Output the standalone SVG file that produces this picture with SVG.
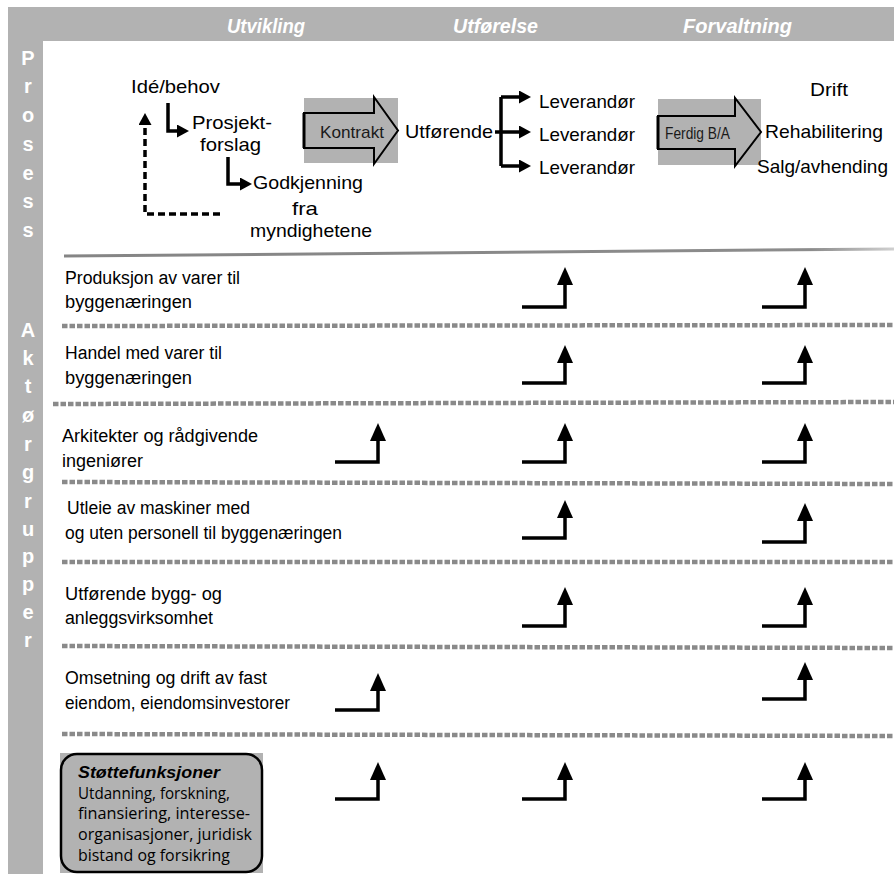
<svg xmlns="http://www.w3.org/2000/svg" width="894" height="874" viewBox="0 0 894 874">
<defs>
<style>
.hd{font-family:"Liberation Sans",Arial,sans-serif;font-weight:bold;font-style:italic;font-size:20px;fill:#fff}
.side{font-family:"Liberation Sans",Arial,sans-serif;font-weight:bold;font-size:20px;fill:#fff;text-anchor:middle}
.t{font-family:"Liberation Sans",Arial,sans-serif;font-size:19px;fill:#000}
.row{font-family:"Liberation Sans",Arial,sans-serif;font-size:18px;fill:#000}
.lab{font-family:"Liberation Sans",Arial,sans-serif;font-size:17px;fill:#1a1a1a}
.box{font-family:"Open Sans","Liberation Sans",sans-serif;font-size:16px;fill:#000}
.boxh{font-family:"Liberation Sans",Arial,sans-serif;font-size:17px;font-weight:bold;font-style:italic;fill:#000}
.band{fill:#b2b2b2}
.dot{stroke:#8a8a8a;stroke-width:4.5;stroke-dasharray:5.5 2;fill:none}
.up{stroke:#000;stroke-width:3.5;fill:none;marker-end:url(#big)}
.con{stroke:#000;stroke-width:3.5;fill:none;marker-end:url(#sm)}
.dash{stroke:#000;stroke-width:3.5;fill:none;stroke-dasharray:7 4;marker-end:url(#sm)}
.bigarrow{fill:#b2b2b2;stroke:#000;stroke-width:2}
</style>
<marker id="big" viewBox="0 0 18 16" refX="6" refY="8" markerWidth="18" markerHeight="16" markerUnits="userSpaceOnUse" orient="auto"><path d="M0,0 L18,8 L0,16 z" fill="#000"/></marker>
<marker id="sm" viewBox="0 0 12 13" refX="4" refY="6.5" markerWidth="12" markerHeight="13" markerUnits="userSpaceOnUse" orient="auto"><path d="M0,0 L12,6.5 L0,13 z" fill="#000"/></marker>
<linearGradient id="sep" x1="0" x2="1" y1="0" y2="0"><stop offset="0" stop-color="#858585"/><stop offset="0.9" stop-color="#8c8c8c"/><stop offset="1" stop-color="#d0d0d0"/></linearGradient>
</defs>
<rect width="894" height="874" fill="#fff"/>

<g id="frame">
<rect class="band" x="8" y="7" width="886" height="34"/>
<rect class="band" x="8" y="7" width="35" height="867"/>
</g>

<g id="phase-headers">
<text class="hd" x="227" y="33" textLength="78" lengthAdjust="spacingAndGlyphs">Utvikling</text>
<text class="hd" x="453" y="33" textLength="85" lengthAdjust="spacingAndGlyphs">Utførelse</text>
<text class="hd" x="683" y="33" textLength="109" lengthAdjust="spacingAndGlyphs">Forvaltning</text>
</g>

<g id="side-prosess">
<text class="side" x="28" y="65">P</text>
<text class="side" x="28" y="93">r</text>
<text class="side" x="28" y="122">o</text>
<text class="side" x="28" y="151">s</text>
<text class="side" x="28" y="180">e</text>
<text class="side" x="28" y="208">s</text>
<text class="side" x="28" y="237">s</text>
</g>

<g id="side-aktorgrupper">
<text class="side" x="28" y="337">A</text>
<text class="side" x="28" y="365">k</text>
<text class="side" x="28" y="393">t</text>
<text class="side" x="28" y="422">ø</text>
<text class="side" x="28" y="451">r</text>
<text class="side" x="28" y="479">g</text>
<text class="side" x="28" y="508">r</text>
<text class="side" x="28" y="536">u</text>
<text class="side" x="28" y="563">p</text>
<text class="side" x="28" y="591">p</text>
<text class="side" x="28" y="619">e</text>
<text class="side" x="28" y="647">r</text>
</g>

<g id="separators">
<line x1="64" y1="256" x2="894" y2="249" stroke="url(#sep)" stroke-width="3"/>
<line class="dot" x1="62" y1="326" x2="894" y2="325"/>
<line class="dot" x1="53" y1="404" x2="894" y2="402"/>
<line class="dot" x1="62" y1="482" x2="894" y2="484"/>
<line class="dot" x1="62" y1="562" x2="894" y2="562"/>
<line class="dot" x1="62" y1="646" x2="894" y2="648"/>
<line class="dot" x1="62" y1="734" x2="894" y2="736"/>
</g>

<g id="node-ide"><text class="t" x="131" y="93" textLength="89" lengthAdjust="spacingAndGlyphs">Idé/behov</text></g>
<g id="node-prosjekt">
<text class="t" x="192" y="129" textLength="80" lengthAdjust="spacingAndGlyphs">Prosjekt-</text>
<text class="t" x="200" y="151" textLength="61" lengthAdjust="spacingAndGlyphs">forslag</text>
</g>
<g id="node-godkjenning">
<text class="t" x="253" y="189" textLength="110" lengthAdjust="spacingAndGlyphs">Godkjenning</text>
<text class="t" x="292" y="215" textLength="26" lengthAdjust="spacingAndGlyphs">fra</text>
<text class="t" x="250" y="237" textLength="122" lengthAdjust="spacingAndGlyphs">myndighetene</text>
</g>
<g id="node-kontrakt">
<rect class="band" x="304" y="98" width="94" height="65"/>
<path class="bigarrow" d="M304 113 H374 V97 L398 130.5 L374 164 V148 H304 Z"/>
<line x1="304" y1="113" x2="304" y2="148" stroke="#000" stroke-width="3"/>
<text class="lab" x="320" y="138" textLength="64" lengthAdjust="spacingAndGlyphs">Kontrakt</text>
</g>
<g id="node-utforende"><text class="t" x="405" y="138" textLength="88" lengthAdjust="spacingAndGlyphs">Utførende</text></g>
<g id="node-leverandor1"><text class="t" x="539" y="108" textLength="96" lengthAdjust="spacingAndGlyphs">Leverandør</text></g>
<g id="node-leverandor2"><text class="t" x="539" y="141" textLength="96" lengthAdjust="spacingAndGlyphs">Leverandør</text></g>
<g id="node-leverandor3"><text class="t" x="539" y="174" textLength="96" lengthAdjust="spacingAndGlyphs">Leverandør</text></g>
<g id="node-ferdig">
<rect class="band" x="658" y="99" width="103" height="66"/>
<path class="bigarrow" d="M658 116 H735 V98 L761 132 L735 166 V149 H658 Z"/>
<line x1="658" y1="116" x2="658" y2="149" stroke="#000" stroke-width="3"/>
<text class="lab" x="665" y="139" textLength="65" lengthAdjust="spacingAndGlyphs">Ferdig B/A</text>
</g>
<g id="node-drift"><text class="t" x="810" y="96" textLength="38" lengthAdjust="spacingAndGlyphs">Drift</text></g>
<g id="node-rehab"><text class="t" x="765" y="138" textLength="118" lengthAdjust="spacingAndGlyphs">Rehabilitering</text></g>
<g id="node-salg"><text class="t" x="757" y="173" textLength="131" lengthAdjust="spacingAndGlyphs">Salg/avhending</text></g>

<g id="row-produksjon">
<text class="row" x="65" y="284" textLength="175" lengthAdjust="spacingAndGlyphs">Produksjon av varer til</text>
<text class="row" x="65" y="308" textLength="127" lengthAdjust="spacingAndGlyphs">byggenæringen</text>
</g>
<g id="row-handel">
<text class="row" x="65" y="359" textLength="157" lengthAdjust="spacingAndGlyphs">Handel med varer til</text>
<text class="row" x="65" y="384" textLength="127" lengthAdjust="spacingAndGlyphs">byggenæringen</text>
</g>
<g id="row-arkitekter">
<text class="row" x="62" y="442" textLength="196" lengthAdjust="spacingAndGlyphs">Arkitekter og rådgivende</text>
<text class="row" x="62" y="467" textLength="81" lengthAdjust="spacingAndGlyphs">ingeniører</text>
</g>
<g id="row-utleie">
<text class="row" x="67" y="514" textLength="183" lengthAdjust="spacingAndGlyphs">Utleie av maskiner med</text>
<text class="row" x="65" y="539" textLength="277" lengthAdjust="spacingAndGlyphs">og uten personell til byggenæringen</text>
</g>
<g id="row-utforende">
<text class="row" x="65" y="600" textLength="157" lengthAdjust="spacingAndGlyphs">Utførende bygg- og</text>
<text class="row" x="65" y="624" textLength="148" lengthAdjust="spacingAndGlyphs">anleggsvirksomhet</text>
</g>
<g id="row-omsetning">
<text class="row" x="65" y="684" textLength="202" lengthAdjust="spacingAndGlyphs">Omsetning og drift av fast</text>
<text class="row" x="65" y="709" textLength="225" lengthAdjust="spacingAndGlyphs">eiendom, eiendomsinvestorer</text>
</g>
<g id="row-stotte">
<rect class="band" x="60" y="753" width="203" height="120"/>
<rect x="61" y="754" width="201" height="118" rx="16" fill="#b2b2b2" stroke="#000" stroke-width="2.5"/>
<text class="boxh" x="78" y="778" textLength="142" lengthAdjust="spacingAndGlyphs">Støttefunksjoner</text>
<text class="box" x="78" y="799" textLength="152" lengthAdjust="spacingAndGlyphs">Utdanning, forskning,</text>
<text class="box" x="78" y="819" textLength="172" lengthAdjust="spacingAndGlyphs">finansiering, interesse-</text>
<text class="box" x="78" y="840" textLength="174" lengthAdjust="spacingAndGlyphs">organisasjoner, juridisk</text>
<text class="box" x="78" y="861" textLength="152" lengthAdjust="spacingAndGlyphs">bistand og forsikring</text>
</g>

<g id="connectors">
<path class="con" d="M168 103 V131 H181"/>
<path class="con" d="M228 157 V184 H244"/>
<path class="dash" d="M220 214 H145 V121"/>
<path d="M501 97 V166" stroke="#000" stroke-width="3.5" fill="none"/>
<path class="con" d="M501 97 H523"/>
<path class="con" d="M495 132 H523"/>
<path class="con" d="M501 166 H523"/>
<path class="up" d="M522 307 H565 V279"/>
<path class="up" d="M762 307 H805 V279"/>
<path class="up" d="M522 383 H565 V357"/>
<path class="up" d="M762 383 H805 V357"/>
<path class="up" d="M335 462 H378 V435"/>
<path class="up" d="M522 462 H565 V435"/>
<path class="up" d="M762 462 H805 V435"/>
<path class="up" d="M522 538 H565 V512"/>
<path class="up" d="M762 542 H805 V515"/>
<path class="up" d="M522 626 H565 V599"/>
<path class="up" d="M762 626 H805 V599"/>
<path class="up" d="M335 710 H378 V685"/>
<path class="up" d="M762 699 H805 V674"/>
<path class="up" d="M335 799 H378 V774"/>
<path class="up" d="M522 799 H565 V774"/>
<path class="up" d="M762 799 H805 V774"/>
</g>
</svg>
